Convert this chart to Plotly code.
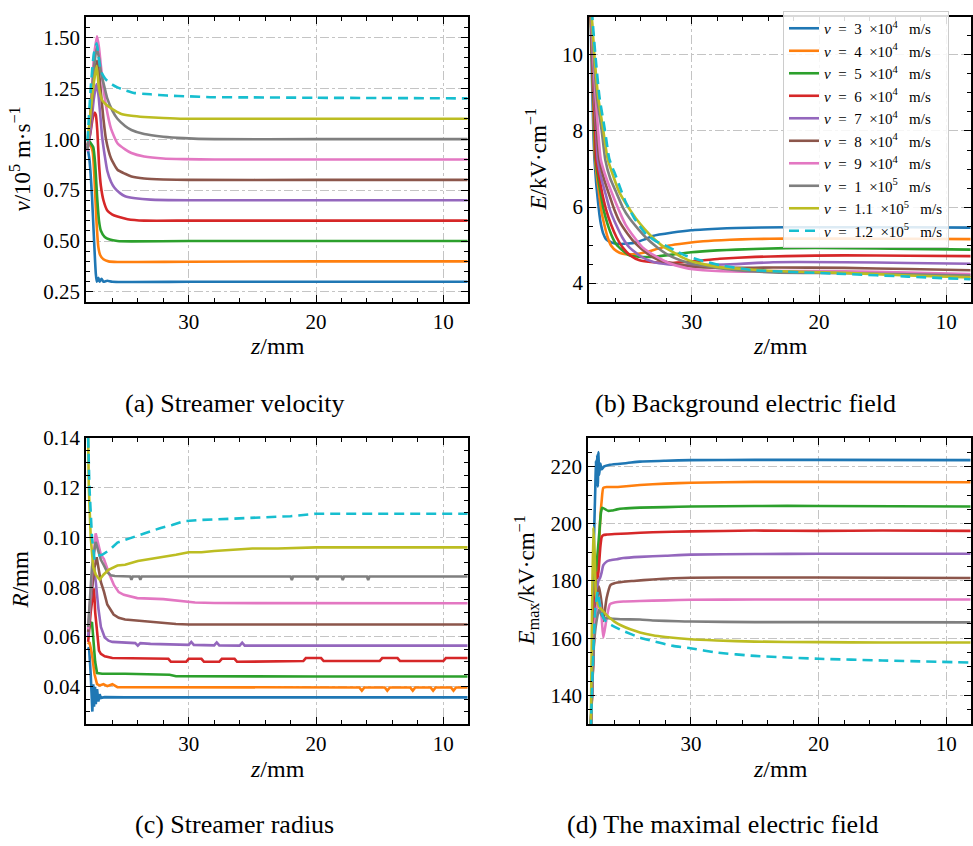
import plotly.graph_objects as go

# ---------------- series meta ----------------
colors = ["#1f77b4", "#ff7f0e", "#2ca02c", "#d62728", "#9467bd",
          "#8c564b", "#e377c2", "#7f7f7f", "#bcbd22", "#17becf"]
speed_mant = ["3", "4", "5", "6", "7", "8", "9", "1", "1.1", "1.2"]
speed_exp = ["4", "4", "4", "4", "4", "4", "4", "5", "5", "5"]

# ---------------- (a) streamer velocity, v / 1e5 m/s ----------------
vel_z_s30 = [37.95, 37.8, 37.6, 37.45, 37.3, 37.22, 37.1, 37.0, 36.85, 36.7, 36.4, 36.0, 30, 20, 8.1]
vel_s30 = [0.96, 0.90, 0.72, 0.52, 0.34, 0.30, 0.32, 0.30, 0.315, 0.30, 0.305, 0.30, 0.30, 0.30, 0.30]
vel_z_s40 = [37.95, 37.75, 37.55, 37.4, 37.25, 37.1, 36.95, 36.7, 36.3, 35.6, 34, 30, 20, 8.1]
vel_s40 = [0.97, 0.97, 0.94, 0.80, 0.60, 0.47, 0.43, 0.41, 0.40, 0.397, 0.397, 0.398, 0.40, 0.40]
vel_z_s50 = [37.95, 37.7, 37.5, 37.35, 37.2, 37.05, 36.9, 36.6, 36.2, 35.6, 34.5, 30, 20, 8.1]
vel_s50 = [1.0, 0.98, 0.96, 0.88, 0.72, 0.60, 0.55, 0.52, 0.507, 0.50, 0.498, 0.50, 0.50, 0.50]
vel_z_s60 = [37.95, 37.75, 37.55, 37.4, 37.3, 37.18, 37.05, 36.9, 36.7, 36.4, 36.0, 35.6, 34.8, 33.5, 30, 20, 8.1]
vel_s60 = [0.97, 1.02, 1.10, 1.13, 1.12, 1.04, 0.88, 0.77, 0.70, 0.65, 0.63, 0.62, 0.607, 0.60, 0.60, 0.60, 0.60]
vel_z_s70 = [37.95, 37.7, 37.45, 37.25, 37.1, 36.95, 36.8, 36.6, 36.4, 36.1, 35.85, 35.4, 35.0, 34.2, 33.0, 30, 20, 8.1]
vel_s70 = [0.95, 1.05, 1.20, 1.27, 1.22, 1.12, 1.01, 0.92, 0.845, 0.79, 0.763, 0.735, 0.72, 0.71, 0.703, 0.70, 0.70, 0.70]
vel_z_s80 = [37.95, 37.7, 37.45, 37.2, 37.05, 36.9, 36.7, 36.5, 36.1, 35.6, 35.0, 34.5, 33.5, 32, 30, 20, 8.1]
vel_s80 = [0.95, 1.10, 1.30, 1.385, 1.33, 1.23, 1.10, 1.0, 0.905, 0.85, 0.83, 0.817, 0.807, 0.802, 0.80, 0.80, 0.80]
vel_z_s90 = [37.95, 37.7, 37.45, 37.2, 37.05, 36.9, 36.7, 36.5, 36.1, 35.6, 35.0, 34.5, 33.5, 32, 30.4, 28, 20, 8.1]
vel_s90 = [0.94, 1.15, 1.40, 1.505, 1.45, 1.36, 1.25, 1.165, 1.05, 0.98, 0.95, 0.932, 0.915, 0.905, 0.902, 0.90, 0.90, 0.90]
vel_z_s100 = [37.95, 37.7, 37.45, 37.23, 37.05, 36.9, 36.6, 36.4, 36.0, 35.6, 35.0, 34.5, 33.5, 32.0, 30.4, 28, 20, 8.1]
vel_s100 = [0.95, 1.15, 1.35, 1.447, 1.40, 1.33, 1.25, 1.20, 1.14, 1.10, 1.065, 1.045, 1.025, 1.012, 1.005, 1.0, 1.0, 1.0]
vel_z_s110 = [37.95, 37.6, 37.4, 37.23, 37.05, 36.8, 36.5, 36.25, 35.8, 35.35, 34.5, 33.5, 32, 30.4, 28, 20, 8.1]
vel_s110 = [0.99, 1.20, 1.30, 1.36, 1.25, 1.19, 1.17, 1.158, 1.14, 1.125, 1.115, 1.109, 1.104, 1.10, 1.10, 1.10, 1.10]
vel_z_s120 = [37.95, 37.7, 37.45, 37.23, 37.05, 36.9, 36.6, 36.4, 36.0, 35.6, 35.0, 34.3, 33, 31.7, 30, 28.3, 25, 20, 15, 8.1]
vel_s120 = [0.99, 1.25, 1.42, 1.47, 1.39, 1.335, 1.30, 1.286, 1.268, 1.254, 1.24, 1.227, 1.22, 1.214, 1.21, 1.206, 1.205, 1.203, 1.202, 1.20]

# ---------------- (b) background electric field, kV/cm ----------------
ef_z_s30 = [37.95, 37.88, 37.8, 37.73, 37.65, 37.5, 37.39, 37.25, 37.13, 36.95, 36.74, 36.3, 35.7, 35.0, 34.4, 33.7, 33.07, 31.5, 30.06, 28, 26.5, 22.6, 18, 13, 8.1]
ef_s30 = [11.2, 10.0, 8.9, 8.0, 7.3, 6.6, 6.23, 5.8, 5.54, 5.3, 5.16, 5.07, 5.03, 5.04, 5.07, 5.15, 5.24, 5.33, 5.39, 5.43, 5.45, 5.47, 5.47, 5.47, 5.46]
ef_z_s40 = [37.95, 37.85, 37.75, 37.68, 37.6, 37.45, 37.26, 37.1, 36.87, 36.6, 36.34, 35.9, 35.43, 34.5, 33.6, 32.7, 31.76, 30.5, 29.1, 27, 25.2, 22.6, 18, 13, 8.1]
ef_s40 = [11.2, 10.0, 8.9, 8.0, 7.3, 6.8, 6.31, 5.9, 5.54, 5.2, 4.99, 4.84, 4.77, 4.76, 4.81, 4.9, 4.99, 5.05, 5.1, 5.14, 5.16, 5.17, 5.17, 5.165, 5.157]
ef_z_s50 = [37.95, 37.83, 37.72, 37.63, 37.57, 37.35, 37.13, 36.9, 36.6, 36.25, 35.95, 35.4, 34.9, 34.0, 33.07, 31.5, 30.06, 28, 26.5, 22.6, 18, 13, 8.1]
ef_s50 = [11.3, 10.0, 8.9, 8.0, 7.3, 6.75, 6.31, 5.9, 5.54, 5.22, 5.03, 4.85, 4.73, 4.69, 4.69, 4.75, 4.81, 4.86, 4.88, 4.92, 4.92, 4.9, 4.88]
ef_z_s60 = [37.95, 37.82, 37.7, 37.58, 37.52, 37.25, 37.0, 36.7, 36.34, 35.9, 35.43, 34.8, 34.1, 33.0, 31.76, 30, 27.8, 25, 22.6, 18, 13, 8.1]
ef_s60 = [11.3, 10.0, 8.9, 8.0, 7.26, 6.75, 6.31, 5.9, 5.54, 5.2, 4.94, 4.72, 4.6, 4.55, 4.53, 4.57, 4.64, 4.69, 4.71, 4.73, 4.72, 4.71]
ef_z_s70 = [37.95, 37.8, 37.65, 37.5, 37.39, 37.1, 36.74, 36.4, 35.95, 35.45, 34.9, 34.0, 33.07, 31.8, 30.45, 28.5, 26.5, 23.6, 18, 13, 8.1]
ef_s70 = [11.3, 10.0, 8.9, 8.0, 7.26, 6.75, 6.31, 5.9, 5.54, 5.2, 4.94, 4.7, 4.56, 4.49, 4.47, 4.48, 4.5, 4.55, 4.55, 4.53, 4.51]
ef_z_s80 = [37.95, 37.78, 37.6, 37.45, 37.26, 36.9, 36.47, 36.1, 35.69, 35.0, 34.38, 33.5, 32.55, 31, 29.9, 27.5, 23.6, 18, 13, 8.1]
ef_s80 = [11.3, 10.0, 8.9, 8.0, 7.26, 6.75, 6.31, 5.95, 5.63, 5.28, 5.03, 4.78, 4.6, 4.49, 4.43, 4.4, 4.41, 4.4, 4.37, 4.34]
ef_z_s90 = [37.95, 37.75, 37.55, 37.35, 37.15, 36.7, 36.2, 35.7, 35.2, 34.5, 33.86, 32.8, 31.76, 30.5, 29.1, 26, 23.6, 18, 13, 8.1]
ef_s90 = [11.4, 10.0, 8.9, 8.0, 7.26, 6.75, 6.31, 5.9, 5.54, 5.2, 4.94, 4.7, 4.52, 4.4, 4.34, 4.3, 4.32, 4.31, 4.28, 4.24]
ef_z_s100 = [37.95, 37.7, 37.45, 37.07, 36.8, 36.4, 35.95, 35.4, 34.9, 34.2, 33.6, 32.8, 32.0, 30.9, 29.9, 28, 26.5, 23.6, 18, 13, 8.1]
ef_s100 = [11.4, 10.0, 8.9, 8.0, 7.26, 6.75, 6.4, 5.98, 5.71, 5.42, 5.2, 4.96, 4.77, 4.6, 4.5, 4.4, 4.34, 4.28, 4.26, 4.23, 4.20]
ef_z_s110 = [37.95, 37.65, 37.35, 36.94, 36.6, 36.2, 35.7, 35.0, 34.38, 33.7, 33.07, 32.3, 31.5, 30.7, 29.9, 27.8, 25, 23.6, 18, 13, 8.1]
ef_s110 = [11.5, 10.0, 8.9, 8.0, 7.26, 6.85, 6.4, 6.0, 5.7, 5.42, 5.2, 4.98, 4.82, 4.67, 4.56, 4.42, 4.35, 4.32, 4.27, 4.2, 4.15]
ef_z_s120 = [37.95, 37.57, 37.25, 36.81, 36.47, 36.0, 35.5, 35.2, 34.5, 33.6, 32.8, 32.0, 31.2, 30.45, 29.1, 27.8, 25.2, 22.6, 18, 13, 8.1]
ef_s120 = [11.6, 10.0, 8.9, 8.0, 7.26, 6.85, 6.4, 6.14, 5.7, 5.29, 5.1, 4.98, 4.84, 4.72, 4.58, 4.47, 4.34, 4.30, 4.24, 4.17, 4.10]

# ---------------- (c) streamer radius, mm ----------------
rad_z_s30 = [37.9, 37.83, 37.7, 37.57, 37.5, 37.44, 37.36, 37.3, 37.2, 37.1, 37.0, 36.9, 36.6, 35, 30, 20, 8.1]
rad_s30 = [0.055, 0.0558, 0.045, 0.030, 0.041, 0.032, 0.040, 0.033, 0.039, 0.034, 0.037, 0.0355, 0.0358, 0.0357, 0.0357, 0.0357, 0.0357]
rad_z_s40 = [37.9, 37.8, 37.6, 37.4, 37.2, 37.0, 36.7, 36.4, 36.0, 35.6, 35.2, 30, 16.6, 16.4, 16.2, 14.6, 14.4, 14.2, 12.6, 12.4, 12.2, 11.0, 10.8, 10.6, 9.4, 9.2, 9.0, 8.1]
rad_s40 = [0.057, 0.058, 0.053, 0.045, 0.041, 0.0405, 0.041, 0.0402, 0.041, 0.0398, 0.0398, 0.0397, 0.0397, 0.0384, 0.0397, 0.0397, 0.0384, 0.0397, 0.0397, 0.0384, 0.0397, 0.0397, 0.0384, 0.0397, 0.0397, 0.0384, 0.0397, 0.0397]
rad_z_s50 = [37.9, 37.75, 37.6, 37.5, 37.35, 37.2, 37.0, 36.8, 35, 33, 31.5, 31, 28, 20, 8.1]
rad_s50 = [0.062, 0.065, 0.066, 0.060, 0.050, 0.0455, 0.0452, 0.0452, 0.0452, 0.045, 0.0448, 0.0442, 0.0441, 0.0441, 0.0441]
rad_z_s60 = [37.9, 37.7, 37.5, 37.44, 37.35, 37.2, 37.05, 36.9, 36.6, 36.0, 35.0, 34.0, 32.0, 31.6, 31.4, 30.2, 30.0, 29.0, 28.8, 27.6, 27.4, 26.4, 26.2, 25.0, 24.8, 21.0, 20.8, 19.6, 19.4, 15.0, 14.8, 13.6, 13.4, 10.0, 9.8, 8.1]
rad_s60 = [0.058, 0.070, 0.078, 0.0795, 0.070, 0.061, 0.0545, 0.0532, 0.0522, 0.0515, 0.0514, 0.0513, 0.0512, 0.0512, 0.0500, 0.0500, 0.0512, 0.0512, 0.0500, 0.0500, 0.0512, 0.0512, 0.0500, 0.0500, 0.0503, 0.0503, 0.0515, 0.0515, 0.0503, 0.0503, 0.0515, 0.0515, 0.0503, 0.0503, 0.0515, 0.0515]
rad_z_s70 = [37.9, 37.7, 37.44, 37.3, 37.1, 36.9, 36.6, 36.3, 36.0, 35.0, 34.2, 34.0, 33.8, 33.0, 30.0, 29.8, 29.6, 28.0, 27.8, 27.6, 26.0, 25.8, 25.6, 20, 8.1]
rad_s70 = [0.060, 0.075, 0.0874, 0.082, 0.0716, 0.064, 0.0598, 0.0585, 0.058, 0.0578, 0.0575, 0.0565, 0.0575, 0.0572, 0.0568, 0.0580, 0.0568, 0.0566, 0.0578, 0.0566, 0.0565, 0.0577, 0.0565, 0.0565, 0.0565]
rad_z_s80 = [37.9, 37.7, 37.4, 37.23, 37.1, 36.9, 36.66, 36.4, 35.9, 35.5, 35.0, 34, 33, 32, 31, 30, 28, 20, 8.1]
rad_s80 = [0.062, 0.075, 0.088, 0.092, 0.088, 0.082, 0.0782, 0.073, 0.069, 0.0677, 0.067, 0.0665, 0.066, 0.0655, 0.0652, 0.065, 0.065, 0.065, 0.065]
rad_z_s90 = [37.9, 37.6, 37.31, 37.1, 36.9, 36.66, 36.3, 35.87, 35.5, 35.1, 34.5, 34.04, 32, 30.5, 29.5, 28, 20, 8.1]
rad_s90 = [0.063, 0.085, 0.1016, 0.097, 0.093, 0.0913, 0.086, 0.0808, 0.078, 0.0769, 0.076, 0.0756, 0.0752, 0.0745, 0.0738, 0.0736, 0.0735, 0.0735]
rad_z_s100 = [37.9, 37.6, 37.31, 37.1, 36.9, 36.66, 36.4, 36.13, 35.8, 34.6, 34.5, 34.4, 33.9, 33.8, 33.7, 30, 22.0, 21.9, 21.8, 20.0, 19.9, 19.8, 18.0, 17.9, 17.8, 16.0, 15.9, 15.8, 8.1]
rad_s100 = [0.064, 0.088, 0.0982, 0.094, 0.091, 0.0887, 0.086, 0.0848, 0.0845, 0.0843, 0.0830, 0.0843, 0.0843, 0.0830, 0.0843, 0.0843, 0.0843, 0.0829, 0.0843, 0.0843, 0.0829, 0.0843, 0.0843, 0.0829, 0.0843, 0.0843, 0.0829, 0.0843, 0.0843]
rad_z_s110 = [37.9, 37.85, 37.7, 37.5, 37.3, 37.0, 36.7, 36.3, 35.6, 35.0, 34, 33, 32, 31, 30, 29, 28, 26, 25, 23, 21, 20, 15, 8.1]
rad_s110 = [0.14, 0.12, 0.10, 0.088, 0.085, 0.083, 0.085, 0.087, 0.0887, 0.089, 0.0905, 0.0913, 0.092, 0.093, 0.094, 0.094, 0.0945, 0.095, 0.0955, 0.0955, 0.096, 0.096, 0.096, 0.096]
rad_z_s120 = [37.9, 37.8, 37.6, 37.4, 37.18, 36.8, 36.2, 35.6, 34.7, 33.78, 33, 32.2, 31.3, 30.4, 29, 28, 25, 22, 20, 15, 8.1]
rad_s120 = [0.14, 0.12, 0.10, 0.091, 0.0926, 0.093, 0.095, 0.0979, 0.0995, 0.1012, 0.1025, 0.1038, 0.105, 0.1065, 0.107, 0.1072, 0.108, 0.1085, 0.1095, 0.1095, 0.1095]

# ---------------- (d) maximal electric field, kV/cm ----------------
em_z_s30 = [37.85, 37.7, 37.6, 37.5, 37.45, 37.4, 37.35, 37.3, 37.25, 37.2, 37.1, 37.0, 36.8, 36.35, 35, 34, 32, 30, 25, 20, 8.1]
em_s30 = [128, 160, 195, 212, 222, 216, 224, 213, 225, 217, 221, 219, 220, 220.6, 221.2, 221.7, 222, 222.2, 222.3, 222.3, 222.2]
em_z_s40 = [37.85, 37.6, 37.4, 37.2, 37.13, 37.0, 36.87, 36.6, 36, 35.3, 34, 32, 30, 25, 20, 8.1]
em_s40 = [128, 160, 185, 192, 200, 208, 212.5, 212.8, 212.8, 213, 213.5, 214, 214.3, 214.6, 214.6, 214.5]
em_z_s50 = [37.85, 37.6, 37.4, 37.2, 37.05, 36.95, 36.7, 36.5, 36.2, 35.8, 35.3, 34, 32, 30, 25, 20, 8.1]
em_s50 = [128, 165, 185, 196, 204, 205.6, 205, 204.5, 204.6, 205, 205.3, 205.6, 205.8, 206, 206.2, 206.2, 206]
em_z_s60 = [37.85, 37.6, 37.45, 37.3, 37.2, 37.1, 37.0, 36.87, 36.6, 36.0, 35, 33, 30, 25, 20, 15, 8.1]
em_s60 = [128, 165, 183, 181, 186, 192, 195.3, 196, 196.2, 196.4, 196.6, 197, 197.3, 197.6, 197.5, 197.6, 197.5]
em_z_s70 = [37.85, 37.6, 37.4, 37.25, 37.13, 37.0, 36.87, 36.6, 36.35, 35.8, 35.3, 34, 32, 30, 25, 20, 8.1]
em_s70 = [128, 160, 175, 180, 181, 183, 185.5, 186.8, 187.2, 187.6, 188, 188.4, 188.8, 189.2, 189.4, 189.5, 189.5]
em_z_s80 = [37.85, 37.6, 37.4, 37.2, 37.0, 36.87, 36.61, 36.3, 36.0, 35.3, 34.5, 33, 30.06, 25, 20, 8.1]
em_s80 = [128, 160, 172, 178, 172, 166, 174, 178.6, 179.2, 179.7, 180, 180.5, 181.1, 181.2, 181.2, 181]
em_z_s90 = [37.85, 37.6, 37.4, 37.2, 37.0, 36.87, 36.61, 36.35, 36.0, 35.3, 34, 32, 30, 25, 20, 8.1]
em_s90 = [128, 160, 170, 174, 167, 160.2, 167, 171.9, 172.5, 172.8, 173, 173.2, 173.4, 173.5, 173.5, 173.5]
em_z_s100 = [37.85, 37.6, 37.4, 37.2, 37.0, 36.74, 36.5, 36.1, 35.5, 34, 33, 31, 30, 25, 20, 8.1]
em_s100 = [128, 158, 166, 170, 168, 167, 167, 166.8, 166.6, 166.5, 166.2, 165.9, 165.8, 165.6, 165.6, 165.5]
em_z_s110 = [37.85, 37.75, 37.65, 37.55, 37.45, 37.3, 37.13, 37.0, 36.7, 36.35, 36.0, 35.5, 34.7, 34.0, 33, 32, 30.06, 28, 25, 20, 15, 8.1]
em_s110 = [128, 170, 198.7, 190, 175, 172, 170.5, 170, 168.5, 167, 165.8, 164.5, 163, 162, 161, 160.4, 159.6, 159.2, 158.8, 158.6, 158.5, 158.5]
em_z_s120 = [37.85, 37.7, 37.5, 37.3, 37.15, 36.87, 36.6, 36.2, 35.82, 35.3, 34.0, 33, 31.4, 30.06, 28, 25, 20, 15, 8.1]
em_s120 = [128, 150, 170, 176.3, 172, 167.1, 165.5, 164.5, 163.6, 162.5, 160.2, 159, 157.3, 156.5, 155, 153.8, 152.8, 152.2, 151.5]

panels = {
    1: ([vel_z_s30, vel_z_s40, vel_z_s50, vel_z_s60, vel_z_s70, vel_z_s80, vel_z_s90, vel_z_s100, vel_z_s110, vel_z_s120],
        [vel_s30, vel_s40, vel_s50, vel_s60, vel_s70, vel_s80, vel_s90, vel_s100, vel_s110, vel_s120], "spline"),
    2: ([ef_z_s30, ef_z_s40, ef_z_s50, ef_z_s60, ef_z_s70, ef_z_s80, ef_z_s90, ef_z_s100, ef_z_s110, ef_z_s120],
        [ef_s30, ef_s40, ef_s50, ef_s60, ef_s70, ef_s80, ef_s90, ef_s100, ef_s110, ef_s120], "spline"),
    3: ([rad_z_s30, rad_z_s40, rad_z_s50, rad_z_s60, rad_z_s70, rad_z_s80, rad_z_s90, rad_z_s100, rad_z_s110, rad_z_s120],
        [rad_s30, rad_s40, rad_s50, rad_s60, rad_s70, rad_s80, rad_s90, rad_s100, rad_s110, rad_s120], "linear"),
    4: ([em_z_s30, em_z_s40, em_z_s50, em_z_s60, em_z_s70, em_z_s80, em_z_s90, em_z_s100, em_z_s110, em_z_s120],
        [em_s30, em_s40, em_s50, em_s60, em_s70, em_s80, em_s90, em_s100, em_s110, em_s120], "spline"),
}

W, H = 973, 846
FONT = "Liberation Serif"
NB = "\u00a0"

fig = go.Figure()
for p in (1, 2, 3, 4):
    zs_all, vs_all, shape = panels[p]
    suffix = "" if p == 1 else str(p)
    for i in range(10):
        label = (f"<i>v</i>{NB}{NB}={NB}{NB}{speed_mant[i]}{NB}{NB}×10<sup>{speed_exp[i]}</sup>"
                 f"{NB}{NB}{NB}m/s")
        line = dict(color=colors[i], width=2.6,
                    dash="10px,6px" if i == 9 else "solid", shape=shape)
        if shape == "spline":
            line["smoothing"] = 0.5
        fig.add_trace(go.Scatter(
            x=zs_all[i], y=vs_all[i], mode="lines", line=line,
            name=label if p == 2 else "", hoverinfo="x+y",
            showlegend=(p == 2), legendgroup=str(i),
            xaxis="x" + suffix, yaxis="y" + suffix))

def px_x(a, b):
    return [a / W, b / W]

def px_y(top, bot):
    return [1 - bot / H, 1 - top / H]

common_axis = dict(showline=True, linecolor="black", linewidth=1.6, mirror="allticks",
                   ticks="inside", ticklen=7, tickwidth=1.3, tickcolor="black",
                   showgrid=True, gridcolor="#c4c4c4", gridwidth=1, griddash="dashdot",
                   zeroline=False, tickfont=dict(family=FONT, size=21, color="black"))

xcfg = dict(common_axis, range=[38.07, 8.06], tickvals=[30, 20, 10],
            minor=dict(ticks="inside", ticklen=4, tickwidth=1, tickcolor="black", dtick=2, tick0=0, showgrid=False))

doms = {1: (px_x(86, 468), px_y(5, 295)), 2: (px_x(589, 971), px_y(5, 295)),
        3: (px_x(86, 468), px_y(433, 724)), 4: (px_x(588, 971), px_y(433, 724))}
yspec = {
    1: dict(range=[0.2, 1.6], dtick=0.25, tick0=0, tickformat=".2f", minor_dtick=0.05),
    2: dict(range=[3.5, 11], dtick=2, tick0=0, tickformat="d", minor_dtick=0.5),
    3: dict(range=[0.025, 0.14], dtick=0.02, tick0=0, tickformat=".2f", minor_dtick=0.005),
    4: dict(range=[130, 230], dtick=20, tick0=0, tickformat="d", minor_dtick=5),
}

layout = dict(width=W, height=H, margin=dict(l=0, r=0, t=0, b=0),
              paper_bgcolor="white", plot_bgcolor="white",
              font=dict(family=FONT, color="black"))
for p in (1, 2, 3, 4):
    suffix = "" if p == 1 else str(p)
    dx, dy = doms[p]
    layout["xaxis" + suffix] = dict(xcfg, domain=dx, anchor="y" + suffix)
    ys = yspec[p]
    layout["yaxis" + suffix] = dict(common_axis, domain=dy, anchor="x" + suffix,
                                    range=ys["range"], dtick=ys["dtick"], tick0=ys["tick0"],
                                    tickformat=ys["tickformat"],
                                    minor=dict(ticks="inside", ticklen=4, tickwidth=1, tickcolor="black",
                                               dtick=ys["minor_dtick"], showgrid=False))

layout["legend"] = dict(x=783 / W, y=1 + 1 / H, xanchor="left", yanchor="top",
                        bgcolor="rgba(255,255,255,0.85)", bordercolor="#cccccc", borderwidth=1,
                        font=dict(family=FONT, size=15, color="black"), tracegroupgap=0)
fig.update_layout(**layout)

def ann(text, x, y, size, angle=0):
    fig.add_annotation(text=text, x=x / W, y=1 - y / H, xref="paper", yref="paper",
                       showarrow=False, textangle=angle, xanchor="center", yanchor="middle",
                       font=dict(family=FONT, size=size, color="black"))

ztitle = "<i>z</i>/mm"
ann(ztitle, 277, 340, 24)
ann(ztitle, 780, 340, 24)
ann(ztitle, 277, 770, 24)
ann(ztitle, 780, 770, 24)
ann("<i>v</i>/10<sup>5</sup> m·s<sup>−1</sup>", 21, 150, 23, -90)
ann("<i>E</i>/kV·cm<sup>−1</sup>", 537, 150, 23, -90)
ann("<i>R</i>/mm", 20, 578, 23, -90)
ann("<i>E</i><sub>max</sub>/kV·cm<sup>−1</sup>", 526, 578, 23, -90)
ann("(a) Streamer velocity", 234, 398, 26)
ann("(b) Background electric field", 745, 398, 26)
ann("(c) Streamer radius", 234, 826, 26)
ann("(d) The maximal electric field", 722, 826, 26)

# remove the default page margin so the 973x846 figure fills the window exactly
fig.write_html("out.html", config={"displayModeBar": False},
               post_script="document.body.style.margin='0px';")
